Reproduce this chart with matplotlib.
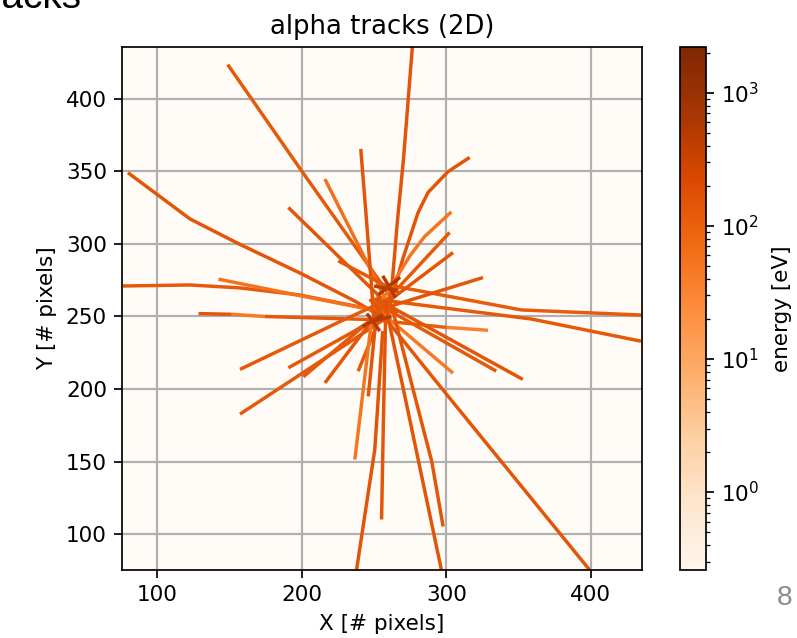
import numpy as np
import matplotlib
matplotlib.use("Agg")
import matplotlib.pyplot as plt
from matplotlib.collections import LineCollection
from matplotlib.colors import LogNorm

# ---------------------------------------------------------------------
# track polylines (detector pixel coordinates) and deposited energy [eV]
# ---------------------------------------------------------------------
TRACK_X = [
    [148.7, 200.0, 262.0],                           # long upper-left diagonal
    [276.6, 270.4, 266.2, 261.0],                    # near-vertical, exits top
    [79.6, 122.5, 156.4, 200.0, 236.5, 262.0],       # upper-left curved
    [76.2, 122.5, 157.0, 198.5, 246.9, 257.3],       # left, almost horizontal
    [142.3, 199.9, 262.0],
    [128.5, 151.5],
    [151.5, 174.5],
    [174.5, 262.0],
    [258.0, 352.0, 434.8],                           # right edge, y~250
    [250.0, 358.7, 434.8],                           # right edge, y~233
    [157.2, 227.5, 256.0],
    [190.7, 236.5, 262.0],
    [157.2, 258.0],
    [216.0, 256.0],
    [201.0, 252.0],
    [239.0, 250.3, 258.0],
    [246.0, 253.0],
    [190.7, 266.0],
    [216.0, 263.0],
    [240.8, 244.8, 250.0],
    [225.2, 268.0],
    [316.2, 301.2, 287.4, 280.5, 270.0, 262.0],      # upper-right curved
    [303.5, 285.0, 275.0, 255.0],
    [302.3, 252.0],
    [304.7, 250.0],
    [325.4, 248.0],
    [328.9, 300.0],
    [300.0, 256.0],
    [304.7, 250.0],
    [334.6, 250.0],
    [353.0, 252.0],
    [247.0, 301.2, 399.1],                           # long lower-right diagonal
    [257.0, 271.3, 296.6],
    [262.0, 278.2, 290.0, 297.8],
    [258.0, 256.5, 255.2],
    [248.0, 236.7],
    [256.0, 250.5, 237.9],
]
TRACK_Y = [
    [423.4, 350.0, 263.0],
    [436.5, 358.6, 315.9, 255.0],
    [349.0, 317.2, 300.0, 279.3, 260.7, 246.0],
    [271.0, 271.7, 269.7, 264.8, 255.2, 249.7],
    [275.7, 264.1, 252.0],
    [252.0, 251.5],
    [251.5, 250.0],
    [250.0, 247.5],
    [272.0, 254.5, 251.0],
    [262.0, 248.3, 233.0],
    [213.6, 247.0, 260.0],
    [214.7, 240.0, 256.0],
    [182.8, 248.7],
    [204.3, 257.0],
    [208.5, 251.0],
    [212.4, 240.0, 262.0],
    [195.0, 265.0],
    [325.0, 252.0],
    [344.6, 252.0],
    [365.3, 315.9, 248.0],
    [288.3, 266.0],
    [359.5, 349.7, 335.4, 321.6, 290.0, 262.0],
    [322.0, 305.0, 292.0, 260.0],
    [307.8, 254.0],
    [294.0, 253.0],
    [276.8, 253.0],
    [240.5, 242.5],
    [242.5, 247.0],
    [211.0, 257.0],
    [212.4, 260.0],
    [206.7, 262.0],
    [262.0, 195.2, 75.7],
    [262.0, 195.2, 75.7],
    [258.0, 195.2, 150.0, 105.5],
    [250.0, 180.0, 110.3],
    [245.0, 151.5],
    [240.0, 158.4, 75.7],
]
TRACK_E = [
    130, 150, 140, 130, 55, 140, 45, 130, 120, 130,
    130, 130, 130, 140, 130, 130, 140, 140, 60, 150,
    130, 150, 50, 130, 140, 140, 35, 110, 45, 130,
    140, 140, 150, 140, 140, 50, 150,
]

# overlapping deposits around the two decay vertices
CORE_X = [[253.0, 268.0], [242.0, 256.0], [256.0, 265.0], [245.0, 254.0],
          [250.0, 266.0], [247.0, 262.0]]
CORE_Y = [[265.0, 277.0], [243.0, 251.0], [278.0, 263.0], [252.0, 240.0],
          [271.0, 268.0], [246.0, 250.0]]
CORE_E = [600, 550, 500, 500, 450, 450]

VMIN, VMAX = 0.26, 2200
X_TICKS = [100, 200, 300, 400]
Y_TICKS = [100, 150, 200, 250, 300, 350, 400]
EXTENT = (75.5, 435.5)

DPI = 155
fig = plt.figure(figsize=(797 / DPI, 638 / DPI), dpi=DPI)
ax = fig.add_axes([122 / 797, 68 / 638, 520 / 797, 523 / 638])
cax = fig.add_axes([680 / 797, 68 / 638, 26 / 797, 523 / 638])

ax.set_facecolor("#fffbf7")
norm = LogNorm(vmin=VMIN, vmax=VMAX)

segs = [np.column_stack([x, y]) for x, y in zip(TRACK_X + CORE_X, TRACK_Y + CORE_Y)]
lc = LineCollection(segs, cmap="Oranges", norm=norm, linewidths=1.6,
                    capstyle="butt", joinstyle="round")
lc.set_array(np.array(TRACK_E + CORE_E, dtype=float))
ax.add_collection(lc)

ax.set_xlim(*EXTENT)
ax.set_ylim(*EXTENT)
ax.set_xticks(X_TICKS)
ax.set_yticks(Y_TICKS)
ax.grid(True, color="#b0b0b0", linewidth=1.0)
ax.set_title("alpha tracks (2D)")
ax.set_xlabel("X [# pixels]")
ax.set_ylabel("Y [# pixels]")

cb = fig.colorbar(lc, cax=cax)
cb.set_label("energy [eV]", labelpad=6)

# slide residue around the figure
fig.text(81 / 797, 1 - 8 / 638, "Alpha tracks", ha="right", va="baseline",
         fontsize=18, family="Liberation Sans")
fig.text(785 / 797, 1 - 598 / 638, "8", ha="center", va="center",
         fontsize=13, color="#8c8c8c", family="Liberation Sans")

fig.savefig("out.png", dpi=DPI)
